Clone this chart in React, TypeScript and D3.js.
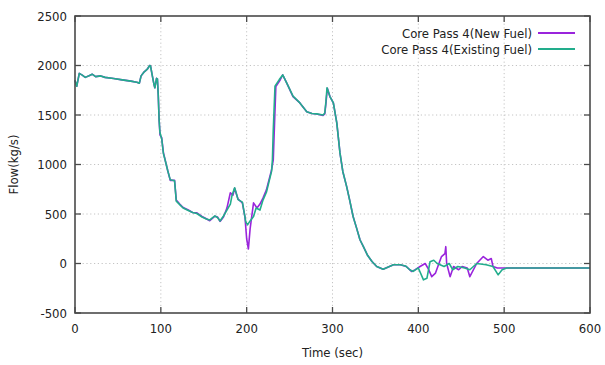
import React, { useEffect, useRef } from "react";
import * as d3 from "d3";

// [time (sec), flow (kg/s)]
const newFuel: [number, number][] = [
  [0, 1850], [2, 1790], [5, 1920], [8, 1905], [12, 1880], [17, 1900], [20, 1912],
  [24, 1888], [30, 1895], [35, 1880], [45, 1868], [55, 1855], [65, 1842], [72, 1830],
  [75, 1822], [77, 1895], [80, 1930], [84, 1960], [87, 2000], [88, 1995], [90, 1900],
  [92, 1810], [93, 1775], [95, 1870], [96, 1865], [97, 1700], [98, 1450], [99, 1300],
  [101, 1270], [103, 1120], [105, 1045], [108, 940], [111, 840], [116, 840], [118, 640],
  [122, 600], [126, 565], [132, 540], [137, 515], [142, 512], [148, 475], [153, 452],
  [157, 432], [163, 478], [166, 470], [169, 425], [173, 470], [177, 560], [181, 715],
  [184, 690], [186, 760], [190, 650], [195, 612], [198, 470], [200, 250], [202, 146],
  [204, 350], [208, 612], [212, 560], [215.5, 600], [219, 660], [223, 744], [229, 946],
  [231, 1047], [232, 1300], [234, 1787], [239, 1854], [242, 1905], [246.6, 1824],
  [254, 1686], [262, 1622], [270, 1534], [276, 1515], [281.6, 1511], [289, 1495],
  [291, 1510], [292.4, 1622], [294, 1770], [297, 1686], [301, 1622], [305, 1420],
  [308.7, 1117], [312, 930], [316.5, 777], [320, 640], [324, 475], [328, 360], [332, 240],
  [336, 170], [341, 80], [346, 20], [351.5, -30], [359, -57], [365, -35], [371, -13],
  [379, -13], [386, -30], [392, -80], [396, -65], [402, -30], [408, 0], [412, -60],
  [415.6, -133], [420, -97], [424, 0], [427, 70], [431, 100], [432, 170], [433, 0],
  [437, -133], [441, -30], [447, -63], [451, -30], [457, -45], [460, -133], [468, 0],
  [475.7, 70], [481, 33], [485, 50], [487, -30], [492, -45], [600, -45],
];

const existingFuel: [number, number][] = [
  [0, 1850], [2, 1790], [5, 1920], [8, 1905], [12, 1880], [17, 1900], [20, 1912],
  [24, 1888], [30, 1895], [35, 1880], [45, 1868], [55, 1855], [65, 1842], [72, 1830],
  [75, 1822], [77, 1895], [80, 1930], [84, 1960], [87, 2000], [88, 1995], [90, 1900],
  [92, 1810], [93, 1775], [95, 1870], [96, 1865], [97, 1700], [98, 1450], [99, 1320],
  [101, 1260], [103, 1110], [105, 1045], [108, 940], [111, 845], [116, 835], [118, 630],
  [122, 595], [126, 560], [132, 535], [137, 515], [142, 505], [148, 470], [153, 450],
  [157, 440], [163, 480], [166, 465], [169, 430], [173, 480], [177, 540], [181, 600],
  [183, 690], [186, 765], [190, 645], [195, 620], [199, 420], [201, 390], [204, 430],
  [208, 475], [211, 560], [215.5, 540], [219, 640], [223, 720], [229, 930],
  [230, 1047], [231, 1350], [233, 1790], [238, 1858], [242, 1905], [246.6, 1824],
  [254, 1690], [262, 1622], [270, 1534], [276, 1515], [281.6, 1511], [289, 1500],
  [291, 1520], [292.4, 1640], [293.6, 1775], [297, 1686], [301, 1622], [305, 1420],
  [308.7, 1117], [312, 930], [316.5, 777], [320, 640], [324, 475], [328, 360], [332, 240],
  [336, 170], [341, 80], [346, 20], [351.5, -30], [359, -57], [365, -35], [371, -13],
  [379, -13], [385, -25], [390, -63], [394, -80], [400, -45], [406, -165], [410, -150],
  [413.6, 17], [418, 33], [422, 0], [430, -30], [436, 0], [440, -63], [446, -30],
  [454, -45], [460, -63], [468, 0], [479, -13], [487, -30], [493, -115], [497.6, -63],
  [503, -45], [600, -45],
];

const seriesNames = ["Core Pass 4(New Fuel)", "Core Pass 4(Existing Fuel)"];
const seriesColors = ["#9a24dc", "#22ad8c"];
const xTicks = [0, 100, 200, 300, 400, 500, 600];
const yTicks = [-500, 0, 500, 1000, 1500, 2000, 2500];

const App = () => {
  const svgRef = useRef<SVGSVGElement>(null);

  useEffect(() => {
    const W = 605;
    const H = 365;
    const margin = { top: 16, right: 15, bottom: 52, left: 75 };
    const width = W - margin.left - margin.right;
    const height = H - margin.top - margin.bottom;
    const font = "'DejaVu Sans Condensed', 'DejaVu Sans', sans-serif";

    const root = d3.select(svgRef.current);
    root.selectAll("*").remove();
    root.attr("width", W).attr("height", H);

    const svg = root
      .append("g")
      .attr("transform", `translate(${margin.left},${margin.top})`);

    const x = d3.scaleLinear().domain([0, 600]).range([0, width]);
    const y = d3.scaleLinear().domain([-500, 2500]).range([height, 0]);

    // dotted grid
    const grid = svg.append("g").attr("stroke", "#c4c4c4").attr("stroke-dasharray", "1.2 2.6");
    xTicks.slice(1, -1).forEach((t) => {
      grid.append("line").attr("x1", x(t)).attr("x2", x(t)).attr("y1", 0).attr("y2", height);
    });
    yTicks.slice(1, -1).forEach((t) => {
      grid.append("line").attr("x1", 0).attr("x2", width).attr("y1", y(t)).attr("y2", y(t));
    });

    // lines
    const line = d3
      .line<[number, number]>()
      .x((d) => x(d[0]))
      .y((d) => y(d[1]));

    [newFuel, existingFuel].forEach((data, i) => {
      svg
        .append("path")
        .datum(data)
        .attr("fill", "none")
        .attr("stroke", seriesColors[i])
        .attr("stroke-width", 1.6)
        .attr("stroke-linejoin", "round")
        .attr("d", line);
    });

    // axes, ticks inward, mirrored on top/right
    const tickLen = 6;
    const axisColor = "#4a4a4a";
    const tg = svg.append("g").attr("stroke", axisColor).attr("stroke-width", 1.3);
    xTicks.forEach((t) => {
      tg.append("line").attr("x1", x(t)).attr("x2", x(t)).attr("y1", height).attr("y2", height - tickLen);
      tg.append("line").attr("x1", x(t)).attr("x2", x(t)).attr("y1", 0).attr("y2", tickLen);
    });
    yTicks.forEach((t) => {
      tg.append("line").attr("x1", 0).attr("x2", tickLen).attr("y1", y(t)).attr("y2", y(t));
      tg.append("line").attr("x1", width).attr("x2", width - tickLen).attr("y1", y(t)).attr("y2", y(t));
    });

    svg
      .append("rect")
      .attr("width", width)
      .attr("height", height)
      .attr("fill", "none")
      .attr("stroke", axisColor)
      .attr("stroke-width", 1.6);

    // tick labels
    svg
      .append("g")
      .selectAll("text")
      .data(xTicks)
      .join("text")
      .attr("x", (d) => x(d))
      .attr("y", height + 20)
      .attr("text-anchor", "middle")
      .style("font-family", font)
      .style("font-size", "13px")
      .style("fill", "#222")
      .text((d) => d);

    svg
      .append("g")
      .selectAll("text")
      .data(yTicks)
      .join("text")
      .attr("x", -8)
      .attr("y", (d) => y(d))
      .attr("dy", "0.35em")
      .attr("text-anchor", "end")
      .style("font-family", font)
      .style("font-size", "13px")
      .style("fill", "#222")
      .text((d) => d);

    // axis titles
    svg
      .append("text")
      .attr("x", width / 2)
      .attr("y", height + 44)
      .attr("text-anchor", "middle")
      .style("font-family", font)
      .style("font-size", "13px")
      .style("fill", "#222")
      .text("Time (sec)");

    svg
      .append("text")
      .attr("transform", `translate(${-57},${height / 2}) rotate(-90)`)
      .attr("text-anchor", "middle")
      .style("font-family", font)
      .style("font-size", "13px")
      .style("fill", "#222")
      .text("Flow(kg/s)");

    // legend
    seriesNames.forEach((name, i) => {
      const ly = 17 + i * 16;
      svg
        .append("text")
        .attr("x", 457)
        .attr("y", ly)
        .attr("dy", "0.35em")
        .attr("text-anchor", "end")
        .style("font-family", font)
        .style("font-size", "13px")
        .style("fill", "#222")
        .text(name);
      svg
        .append("line")
        .attr("x1", 463)
        .attr("x2", 500)
        .attr("y1", ly)
        .attr("y2", ly)
        .attr("stroke", seriesColors[i])
        .attr("stroke-width", 1.8);
    });
  }, []);

  return (
    <div style={{ position: "absolute", left: 0, top: 0, background: "#fff" }}>
      <svg ref={svgRef} style={{ display: "block" }}></svg>
    </div>
  );
};

export default App;
